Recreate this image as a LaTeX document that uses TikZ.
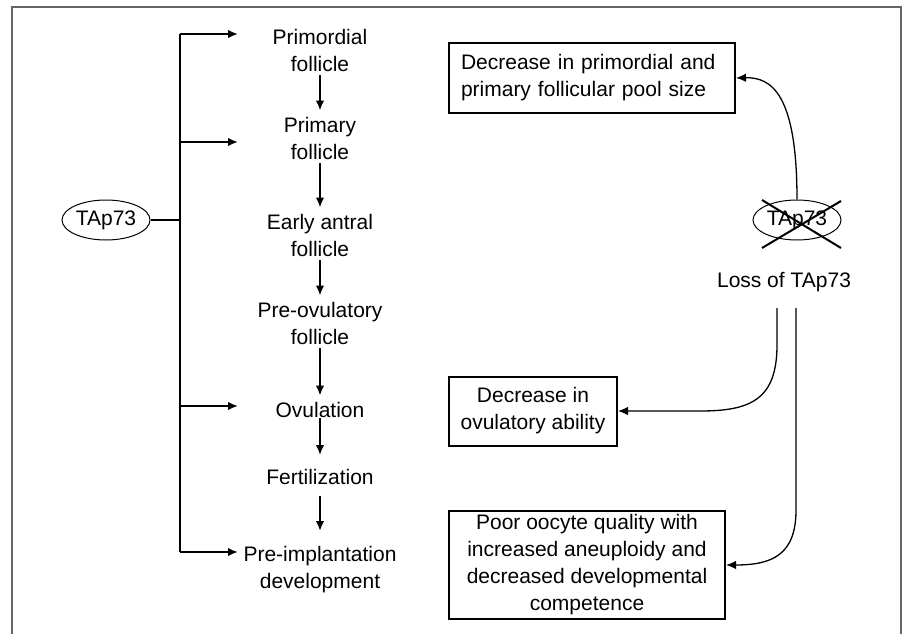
\documentclass[tikz,border=0pt]{standalone}
\usepackage{fontspec}
\setmainfont{Liberation Sans}
\usetikzlibrary{positioning,arrows.meta,shapes.geometric}

\begin{document}
\begin{tikzpicture}[x=1pt,y=-1pt,>={Latex[length=10pt,width=8.5pt]},
                    font=\fontsize{21}{27}\selectfont]
  \tikzstyle{stage}=[align=center,inner sep=1pt]
  \tikzstyle{gene}=[draw,ellipse,line width=1pt,inner sep=0pt,
                    minimum width=88pt,minimum height=40pt]
  \tikzstyle{effect}=[draw,line width=2pt,anchor=west,inner sep=0pt]
  \tikzstyle{flow}=[->,line width=2pt]
  \tikzstyle{lossarrow}=[->,line width=1.3pt]

  \useasboundingbox (0,0) rectangle (903,634);
  \draw[black!60,line width=2pt] (12,634) -- (12,7) -- (901,7) -- (901,634);

  % TAp73 and the stages
  \node[gene]  (tap)   at (106,220)   {TAp73};
  \node[stage] (prim)  at (320,50)    {Primordial\\follicle};
  \node[stage] (pri)   at (320,138)   {Primary\\follicle};
  \node[stage] (early) at (320,235)   {Early antral\\follicle};
  \node[stage] (preov) at (320,323)   {Pre-ovulatory\\follicle};
  \node[stage] (ovul)  at (320,409.5) {Ovulation};
  \node[stage] (fert)  at (320,477)   {Fertilization};
  \node[stage] (preim) at (320,569.5) {Pre-implantation\\development};

  \coordinate (ttop) at (180,34);
  \coordinate (tbot) at (180,552);
  \coordinate (a1) at (238,34);
  \coordinate (a2) at (238,142);
  \coordinate (a3) at (238,406);
  \coordinate (a4) at (238,552);

  \draw[line width=2pt] (tap.east) -- (tap.east -| ttop);
  \draw[line width=2pt] (ttop) -- (tbot);
  \foreach \a in {a1,a2,a3,a4}
    \draw[flow] (\a -| ttop) -- (\a);

  \path[flow,shorten <=3pt,shorten >=5pt]
    (prim)  edge (pri)
    (pri)   edge (early)
    (early) edge (preov)
    (preov) edge (ovul);
  \path[flow] (ovul) edge [shorten >=13pt] (fert)
              (fert) edge [shorten <=10pt,shorten >=14pt] (preim);

  % loss of TAp73 and its effects
  \node[gene]  (ko)   at (797,220) {TAp73};
  \draw[line width=2pt] ([shift={(-35,-20)}]ko.center) -- ([shift={(44,28)}]ko.center)
                        ([shift={(44,-19)}]ko.center) -- ([shift={(-35,28)}]ko.center);
  \node[stage] (loss) at (784,282) {Loss of TAp73};

  \node[effect,minimum width=286pt,minimum height=70pt,text width=262pt,
        align=left,inner xsep=12pt] (pool) at (448,78)
        {Decrease in primordial and\\primary follicular pool size};
  \node[effect,minimum width=168pt,minimum height=69pt,align=center]
        (ovab) at (448,411) {Decrease in\\ovulatory ability};
  \node[effect,minimum width=276pt,minimum height=108pt,align=center]
        (qual) at (448,565) {Poor oocyte quality with\\increased aneuploidy and\\
        decreased developmental\\competence};

  \coordinate (l1) at (777,308);
  \coordinate (l2) at (796,308);

  \draw[lossarrow] (ko.north) .. controls (797,95) and (772,77) .. (pool.east);
  \draw[lossarrow] (l1) -- (777,345) .. controls (777,400) and (750,411) .. (700,411)
                   -- (ovab.east);
  \draw[lossarrow] (l2) -- (796,510) .. controls (796,555) and (772,565) .. (qual.east);
\end{tikzpicture}
\end{document}
